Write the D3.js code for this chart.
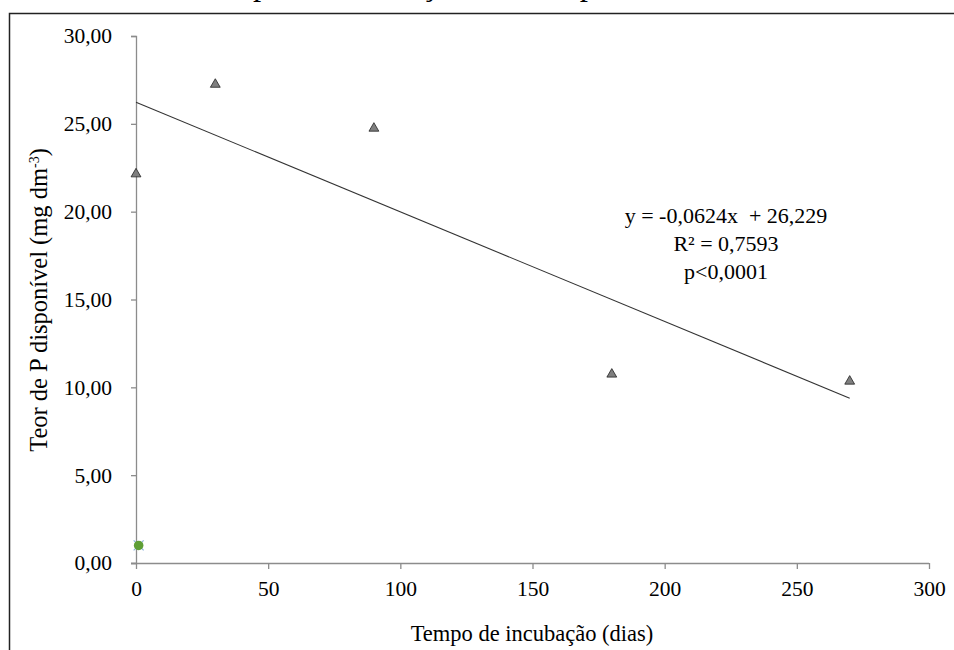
<!DOCTYPE html>
<html>
<head>
<meta charset="utf-8">
<script src="https://cdn.jsdelivr.net/npm/d3@7"></script>
<style>
  body { margin: 0; background: #fff; }
  svg { display: block; }
  text { font-family: "Liberation Serif", "Times New Roman", serif; fill: #000; }
</style>
</head>
<body>
<svg id="chart" width="954" height="650"></svg>
<script>
// Incubation time (days) and available P (mg dm-3)
const days = [0, 30, 90, 180, 270];
const phosphorus = [22.2, 27.3, 24.8, 10.8, 10.4];
// Control point
const controlDays = [1];
const controlP = [1.0];
// Linear fit: y = -0.0624x + 26.229
const slope = -0.0624;
const intercept = 26.229;
const fitRange = [0, 270];
const xTicks = [0, 50, 100, 150, 200, 250, 300];
const yTicks = [0, 5, 10, 15, 20, 25, 30];
const eqLines = ["y = -0,0624x  + 26,229", "R² = 0,7593", "p<0,0001"];
const caption = "Efeito do tempo de incubação no P disponível no Latossolo, em doses";

const svg = d3.select("#chart");
const fmt = d => d3.format(".2f")(d).replace(".", ",");

// Header caption running off the top edge: fit "tempo" p → comma between two anchors
const cap = svg.append("text")
  .attr("x", 0).attr("y", -5)
  .style("font-size", "24px")
  .text(caption);
{
  const node = cap.node();
  const iP = caption.indexOf("tempo") + 3;
  const iC = caption.indexOf(",");
  const span = node.getStartPositionOfChar(iC).x - node.getStartPositionOfChar(iP).x;
  const fs = 24 * (856 - 253) / span;
  cap.style("font-size", fs + "px");
  const px = node.getStartPositionOfChar(iP).x;
  cap.attr("x", 253 - px);
}

// Frame
svg.append("rect")
  .attr("x", 9.5).attr("y", 13.5)
  .attr("width", 1000).attr("height", 700)
  .attr("fill", "none").attr("stroke", "#222").attr("stroke-width", 1.5);

const x = d3.scaleLinear().domain([0, 300]).range([136, 929]);
const y = d3.scaleLinear().domain([0, 30]).range([563, 36]);
const axisColor = "#8c8c8c";

// Y axis
const yAxis = svg.append("g").attr("transform", "translate(136,0)")
  .call(d3.axisLeft(y).tickValues(yTicks).tickFormat(fmt).tickSize(5).tickPadding(19));
// X axis
const xAxis = svg.append("g").attr("transform", "translate(0,563)")
  .call(d3.axisBottom(x).tickValues(xTicks).tickFormat(d3.format("d")).tickSize(6).tickPadding(12));

[yAxis, xAxis].forEach(g => {
  g.attr("font-family", null).attr("font-size", null);
  g.select(".domain").attr("stroke", axisColor).attr("stroke-width", 1.3);
  g.selectAll(".tick line").attr("stroke", axisColor).attr("stroke-width", 1.3);
  g.selectAll(".tick text").attr("fill", "#000").style("font-size", "21.5px");
});
// extend x axis line a bit left of the y axis
xAxis.select(".domain").attr("d", `M131,0.5H${x(300)}`);

// Axis titles
svg.append("text")
  .attr("x", 532).attr("y", 641)
  .attr("text-anchor", "middle")
  .style("font-size", "22.5px")
  .text("Tempo de incubação (dias)");

const yTitle = svg.append("text")
  .attr("transform", "translate(47,300) rotate(-90)")
  .attr("text-anchor", "middle")
  .style("font-size", "24.5px");
yTitle.append("tspan").text("Teor de P disponível (mg dm");
yTitle.append("tspan").attr("dy", -8).style("font-size", "14px").text("-3");
yTitle.append("tspan").attr("dy", 8).text(")");

// Trend line
svg.append("line")
  .attr("x1", x(fitRange[0])).attr("y1", y(intercept + slope * fitRange[0]))
  .attr("x2", x(fitRange[1])).attr("y2", y(intercept + slope * fitRange[1]))
  .attr("stroke", "#333").attr("stroke-width", 1.1);

// Triangle markers
const tri = d3.symbol().type(d3.symbolTriangle).size(42);
svg.selectAll(".pt").data(days.map((d, i) => [d, phosphorus[i]]))
  .enter().append("path")
  .attr("class", "pt")
  .attr("d", tri)
  .attr("transform", d => `translate(${x(d[0])},${y(d[1]) + 1})`)
  .attr("fill", "#7f7f7f").attr("stroke", "#222").attr("stroke-width", 0.8);

// Control point: light-blue cross under a green dot
controlDays.forEach((d, i) => {
  const cx = x(d), cy = y(controlP[i]);
  svg.append("path")
    .attr("d", `M${cx-5},${cy-5}L${cx+5},${cy+5}M${cx-5},${cy+5}L${cx+5},${cy-5}`)
    .attr("stroke", "#8fb3dc").attr("stroke-width", 1.2);
  svg.append("circle").attr("cx", cx).attr("cy", cy).attr("r", 4.8)
    .attr("fill", "#5e9e36");
});

// Regression annotation
svg.append("g").selectAll("text").data(eqLines).enter().append("text")
  .attr("x", 726).attr("y", (d, i) => 223 + i * 28)
  .attr("text-anchor", "middle")
  .style("white-space", "pre")
  .style("font-size", "22px")
  .text(d => d);
</script>
</body>
</html>
